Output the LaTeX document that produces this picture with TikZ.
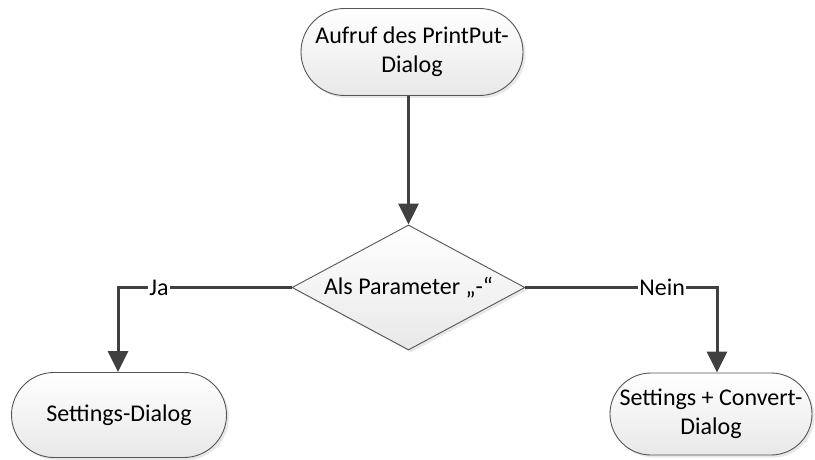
\documentclass[tikz,border=0pt]{standalone}
\usepackage{fontspec}
\setmainfont{Carlito}
\usetikzlibrary{shapes.misc,shapes.geometric,arrows.meta,shadows}
\definecolor{linegray}{HTML}{404040}
\definecolor{edgegray}{HTML}{555555}
\tikzset{
  shapebase/.style={draw=edgegray, line width=0.9pt, top color=white, bottom color=gray!18,
    drop shadow={opacity=0.18, shadow xshift=2.5pt, shadow yshift=-2.5pt},
    font=\fontsize{24}{29}\selectfont, align=center, inner sep=0pt},
  terminal/.style={shapebase, rounded rectangle},
  decision/.style={shapebase, diamond, minimum width=233pt, minimum height=125pt},
  conn/.style={draw=linegray, line width=3pt, -{Triangle[length=21pt,width=20pt]}},
  lbl/.style={fill=white, inner sep=1pt, font=\fontsize{24}{29}\selectfont, text=black}
}
\begin{document}
\begin{tikzpicture}[x=1pt,y=-1pt]
  \useasboundingbox (0,0) rectangle (815,460);
  \node[terminal, minimum width=222pt, minimum height=87pt] (start) at (412,52)
    {Aufruf des PrintPut-\\Dialog};
  % fixed-size diamond; its text is set as a centred label so it does not grow
  \node[decision, label={[font=\fontsize{24}{29}\selectfont]center:Als Parameter „-“}]
    (dec) at (408.5,287.5) {};
  \node[terminal, minimum width=215pt, minimum height=85pt] (yes) at (119,415)
    {Settings-Dialog};
  \node[terminal, minimum width=202pt, minimum height=82pt] (no) at (711,414)
    {Settings + Convert-\\Dialog};
  \draw[conn] (start.south -| dec.north) -- (dec.north);
  \draw[conn] (dec.west) -| node[lbl, pos=0.382] {Ja} (yes.north -| 118,0);
  \draw[conn] (dec.east) -| node[lbl, pos=0.357] {Nein} (no.north -| 717,0);
\end{tikzpicture}
\end{document}
